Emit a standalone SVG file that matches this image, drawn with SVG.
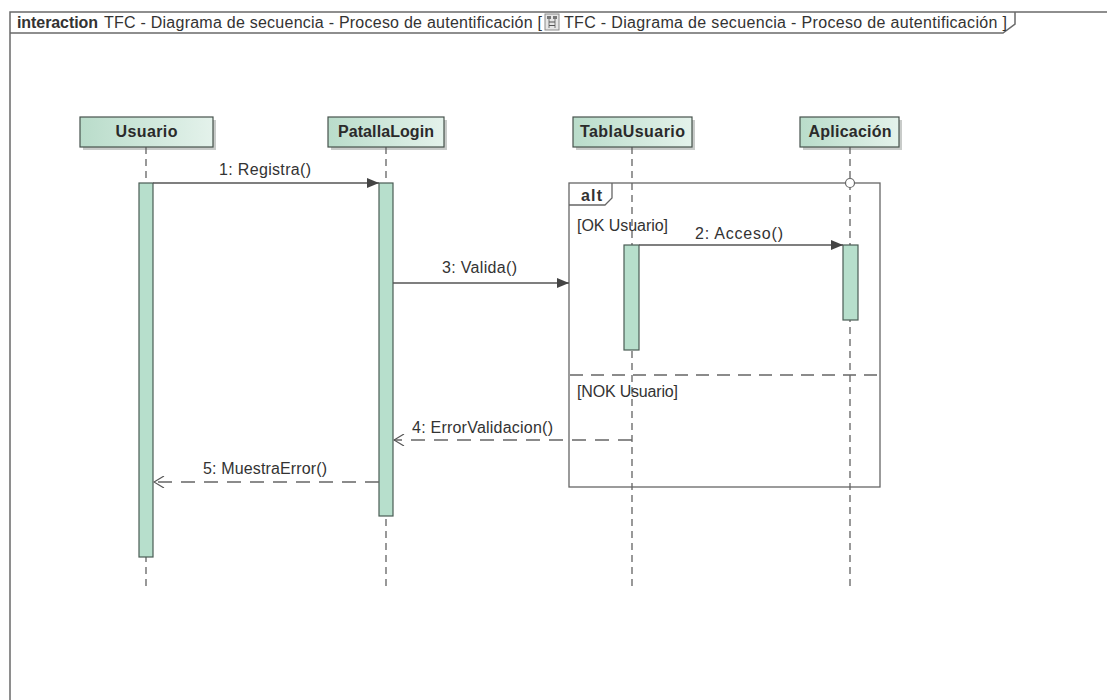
<svg xmlns="http://www.w3.org/2000/svg" width="1107" height="700" viewBox="0 0 1107 700">
  <defs>
    <linearGradient id="headFill" x1="0" y1="0" x2="1" y2="0">
      <stop offset="0" stop-color="#b9dcca"/>
      <stop offset="1" stop-color="#e4f2eb"/>
    </linearGradient>
    <marker id="filled" viewBox="0 0 12 10" refX="12" refY="5" markerWidth="12" markerHeight="10" markerUnits="userSpaceOnUse" orient="auto">
      <path d="M0,0 L12,5 L0,10 Z" fill="#444"/>
    </marker>
    <marker id="open" viewBox="0 0 12 12" refX="11" refY="6" markerWidth="12" markerHeight="12" markerUnits="userSpaceOnUse" orient="auto">
      <path d="M1,0 L11,6 L1,12" fill="none" stroke="#555" stroke-width="1.2"/>
    </marker>
  </defs>
  <style>
    .frame { fill: none; stroke: #6a6a6a; stroke-width: 1.5; }
    .title { font-family: "Liberation Sans", Arial, sans-serif; font-size: 16px; fill: #333; }
    .bold { font-weight: bold; }
    .head { fill: url(#headFill); stroke: #46524c; stroke-width: 1.2; }
    .shadow { fill: #c8cbc9; }
    .headText { font-family: "Liberation Sans", Arial, sans-serif; font-size: 16px; font-weight: bold; fill: #2a2a2a; text-anchor: middle; }
    .life { stroke: #555; stroke-width: 1.2; stroke-dasharray: 7 5; fill: none; }
    .act { fill: #b7dfcc; stroke: #4a5c54; stroke-width: 1.2; }
    .msg { stroke: #555; stroke-width: 1.3; fill: none; }
    .ret { stroke: #666; stroke-width: 1.3; fill: none; stroke-dasharray: 14 9; }
    .label { font-family: "Liberation Sans", Arial, sans-serif; font-size: 16px; fill: #333; }
    .altBox { fill: none; stroke: #666; stroke-width: 1.3; }
    .sep { stroke: #666; stroke-width: 1.3; stroke-dasharray: 13 8; fill: none; }
  </style>

  <rect width="1107" height="700" fill="#ffffff"/>

  <!-- interaction frame and its name tab -->
  <g id="frame">
    <path class="frame" d="M1107,12 L10,12 L10,700"/>
    <path class="frame" d="M10,33 L1003,33 L1015,24 L1015,12"/>
    <text class="title bold" x="17" y="28" textLength="81">interaction</text>
    <text class="title" x="104" y="28" textLength="438">TFC - Diagrama de secuencia - Proceso de autentificación [</text>
    <!-- small diagram icon -->
    <g id="diagramIcon">
      <rect x="545" y="14" width="14" height="16" fill="#e6e6e6" stroke="#8a8a8a" stroke-width="1"/>
      <rect x="547" y="16" width="4" height="3" fill="#777"/>
      <rect x="553" y="16" width="4" height="3" fill="#777"/>
      <line x1="549" y1="19" x2="549" y2="28" stroke="#777" stroke-width="1"/>
      <line x1="555" y1="19" x2="555" y2="28" stroke="#777" stroke-width="1"/>
      <line x1="549" y1="22" x2="555" y2="22" stroke="#555" stroke-width="1"/>
      <line x1="549" y1="25.5" x2="555" y2="25.5" stroke="#555" stroke-width="1"/>
    </g>
    <text class="title" x="564" y="28" textLength="443">TFC - Diagrama de secuencia - Proceso de autentificación ]</text>
  </g>

  <!-- lifelines -->
  <g id="usuario">
    <rect class="shadow" x="83" y="120" width="133" height="30"/>
    <rect class="head" x="80" y="117" width="133" height="30"/>
    <text class="headText" x="146.5" y="137" textLength="62">Usuario</text>
    <line class="life" x1="146" y1="147" x2="146" y2="590"/>
    <rect class="act" x="139" y="183" width="14" height="374"/>
  </g>

  <g id="patallaLogin">
    <rect class="shadow" x="331" y="120" width="116" height="30"/>
    <rect class="head" x="328" y="117" width="116" height="30"/>
    <text class="headText" x="386" y="137" textLength="96">PatallaLogin</text>
    <line class="life" x1="386" y1="147" x2="386" y2="590"/>
    <rect class="act" x="379" y="183" width="14" height="333"/>
  </g>

  <g id="tablaUsuario">
    <rect class="shadow" x="576" y="120" width="119" height="30"/>
    <rect class="head" x="573" y="117" width="119" height="30"/>
    <text class="headText" x="632.5" y="137" textLength="105">TablaUsuario</text>
    <line class="life" x1="632" y1="147" x2="632" y2="590"/>
  </g>

  <g id="aplicacion">
    <rect class="shadow" x="803" y="120" width="99" height="30"/>
    <rect class="head" x="800" y="117" width="99" height="30"/>
    <text class="headText" x="850" y="137" textLength="83">Aplicación</text>
    <line class="life" x1="850" y1="147" x2="850" y2="590"/>
  </g>

  <!-- alt combined fragment -->
  <g id="altFragment">
    <rect class="altBox" x="569" y="183" width="311" height="304"/>
    <path class="altBox" d="M569,205 L605,205 L612,198 L612,183"/>
    <text class="label bold" x="581" y="201" textLength="21">alt</text>
    <line class="sep" x1="570" y1="375" x2="880" y2="375"/>
    <text class="label" x="577" y="231" textLength="91">[OK Usuario]</text>
    <text class="label" x="577" y="397" textLength="101">[NOK Usuario]</text>
    <circle cx="850" cy="183" r="4.5" fill="#ffffff" stroke="#666" stroke-width="1.2"/>
  </g>

  <!-- execution bars inside the fragment -->
  <g id="activations">
    <rect class="act" x="624" y="245" width="15" height="105"/>
    <rect class="act" x="843" y="245" width="15" height="75"/>
  </g>

  <!-- messages -->
  <g id="connectors">
    <line class="msg" x1="153" y1="183" x2="379" y2="183" marker-end="url(#filled)"/>
    <text class="label" x="219" y="175" textLength="92">1: Registra()</text>

    <line class="msg" x1="639" y1="245" x2="843" y2="245" marker-end="url(#filled)"/>
    <text class="label" x="695" y="239" textLength="88">2: Acceso()</text>

    <line class="msg" x1="393" y1="283" x2="569" y2="283" marker-end="url(#filled)"/>
    <text class="label" x="442" y="273" textLength="75">3: Valida()</text>

    <line class="ret" x1="632" y1="440" x2="394" y2="440" marker-end="url(#open)"/>
    <text class="label" x="412" y="433" textLength="141">4: ErrorValidacion()</text>

    <line class="ret" x1="379" y1="482" x2="154" y2="482" marker-end="url(#open)"/>
    <text class="label" x="203" y="474" textLength="124">5: MuestraError()</text>
  </g>
</svg>
